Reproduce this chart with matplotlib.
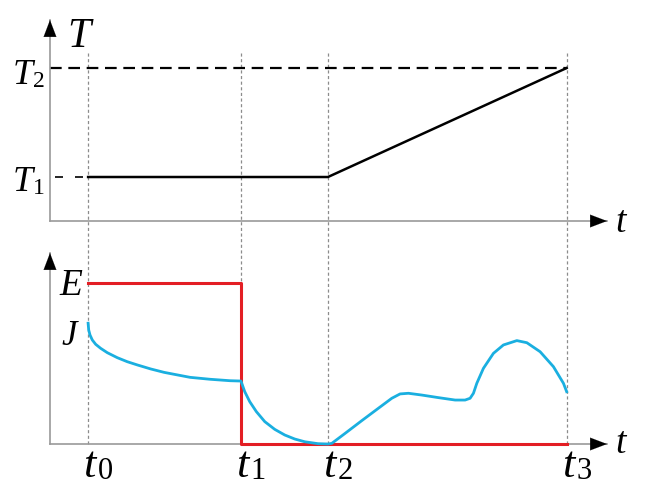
import matplotlib.pyplot as plt

# --- data (time positions and levels) ---
t_marks = [1.03, 5.16, 7.51, 13.96]          # t0, t1, t2, t3
t_digits = ['0', '1', '2', '3']
T1, T2 = 1.0, 3.477
E_level = 1.0

# temperature profile: flat at T1 until t2, then ramp to T2 at t3
temp_t = [1.03, 7.51, 13.96]
temp_v = [1.0, 1.0, 3.477]

# voltage E: on between t0 and t1, off afterwards
e_t = [1.03, 5.16, 5.16, 13.96]
e_v = [1.0, 1.0, 0.0, 0.0]

# current density J (read point by point)
j_t = [1.03, 1.046, 1.081, 1.143, 1.235, 1.370, 1.549, 1.819, 2.089, 2.359,
       2.722, 3.081, 3.351, 3.784, 4.324, 4.865, 5.16,
       5.262, 5.397, 5.576, 5.803, 6.073, 6.343, 6.614, 6.884, 7.243, 7.51,
       7.614, 7.973, 8.424, 8.873, 9.235, 9.459, 9.684, 10.046, 10.495, 10.946,
       11.216, 11.351, 11.441, 11.532, 11.711, 11.981, 12.251, 12.614, 12.884,
       13.243, 13.603, 13.873, 13.96]
j_v = [0.750, 0.708, 0.677, 0.646, 0.619, 0.594, 0.567, 0.536, 0.511, 0.491,
       0.466, 0.445, 0.433, 0.414, 0.402, 0.393, 0.391,
       0.325, 0.263, 0.201, 0.139, 0.091, 0.056, 0.031, 0.014, 0.002, 0.0,
       0.004, 0.066, 0.145, 0.222, 0.284, 0.311, 0.315, 0.304, 0.288, 0.273,
       0.273, 0.284, 0.315, 0.377, 0.470, 0.563, 0.615, 0.642, 0.629,
       0.573, 0.480, 0.377, 0.325]

plt.rcParams['font.family'] = 'Liberation Serif'

fig = plt.figure(figsize=(6.45, 4.95), dpi=100)
ax_top = fig.add_axes([0.0775, 0.5535, 0.8636, 0.4061])
ax_bot = fig.add_axes([0.0775, 0.1030, 0.8636, 0.3859])

axis_grey = '#9a9a9a'
guide_grey = '#8c8c8c'


def label(ax, xy, coords, letter, digit, dx, dy, size, dsize, gap=0):
    """Italic letter with an upright digit set on its baseline."""
    txt = ax.annotate(letter, xy=xy, xycoords=coords, xytext=(dx, dy),
                      textcoords='offset points', fontsize=size,
                      fontstyle='italic', ha='left', va='baseline',
                      annotation_clip=False)
    if digit:
        ax.annotate(digit, xy=(1, 0), xycoords=txt, xytext=(gap, 0),
                    textcoords='offset points', fontsize=dsize,
                    ha='left', va='bottom', annotation_clip=False)
    return txt


for ax in (ax_top, ax_bot):
    ax.set_xlim(0, 15.05)
    for side in ('top', 'right'):
        ax.spines[side].set_visible(False)
    for side in ('left', 'bottom'):
        ax.spines[side].set_color(axis_grey)
        ax.spines[side].set_linewidth(1.2)
    ax.set_xticks([])
    ax.set_yticks([])
    ax.patch.set_alpha(0)
    head = dict(arrowstyle='-|>,head_length=1.0,head_width=0.38',
                mutation_scale=12, color='black', lw=0.1,
                shrinkA=0, shrinkB=0)
    ax.annotate('', xy=(1, 0), xytext=(0.98, 0), xycoords='axes fraction',
                arrowprops=head)
    ax.annotate('', xy=(0, 1), xytext=(0, 0.95), xycoords='axes fraction',
                arrowprops=head)

label(ax_top, (1, 0), 'axes fraction', 't', '', 5.8, -7.9, 27, 0)
label(ax_bot, (1, 0), 'axes fraction', 't', '', 5.8, -6.5, 27, 0)

ax_top.set_ylim(0, 4.568)
ax_bot.set_ylim(0, 1.186)

# vertical guide lines through both panels
for tm in t_marks:
    ax_top.axvline(tm, ymin=-0.159, ymax=0.841, color=guide_grey, lw=0.9,
                   ls=(0, (2.5, 2)), clip_on=False, zorder=1)
    ax_bot.axvline(tm, ymin=0, ymax=1, color=guide_grey, lw=0.9,
                   ls=(0, (2.5, 2)), clip_on=False, zorder=1)

# top panel
ax_top.plot([0, t_marks[3]], [T2, T2], color='black', lw=1.6,
            ls=(0, (5.25, 3.0)))
ax_top.plot([0.135, t_marks[0]], [T1, T1], color='black', lw=1.2,
            ls=(0, (4.8, 7.2)))
ax_top.plot(temp_t, temp_v, color='black', lw=1.8, zorder=3)
label(ax_top, (0, 1), 'axes fraction', 'T', '', 12.2, -19.4, 30, 0)
yax = ('axes fraction', 'data')
label(ax_top, (0, T2), yax, 'T', '2', -26.6, -11.5, 26, 17)
label(ax_top, (0, T1), yax, 'T', '1', -26.6, -10.0, 26, 17)

# bottom panel
ax_bot.plot(e_t, e_v, color='#e31e24', lw=2.2, zorder=3, clip_on=False)
ax_bot.plot(j_t, j_v, color='#1aafe0', lw=2.0, zorder=4, clip_on=False,
            solid_joinstyle='round')
label(ax_bot, (0, E_level), yax, 'E', '', 6.5, -9.0, 27, 0)
label(ax_bot, (0, j_v[0]), yax, 'J', '', 8.0, -16.0, 25, 0)
xax = ('data', 'axes fraction')
for tm, dg in zip(t_marks, t_digits):
    label(ax_bot, (tm, 0), xax, 't', dg, -3.6, -23.8, 32, 22, gap=1.5)

fig.savefig('out.png', dpi=100)
